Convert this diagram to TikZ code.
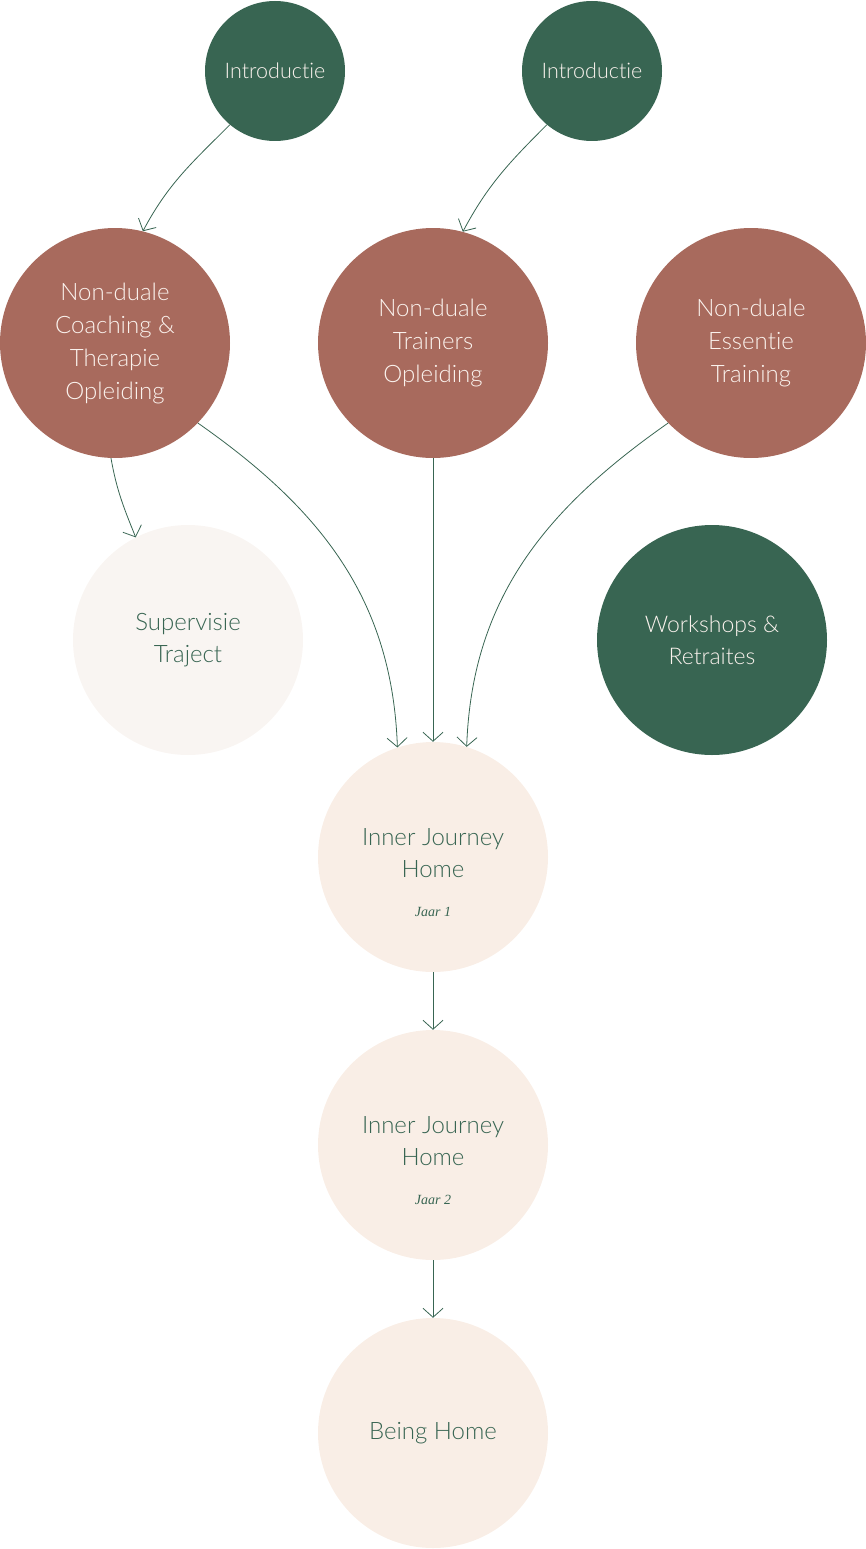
\documentclass[tikz,border=0pt]{standalone}
\usepackage{fontspec}
\setmainfont{Lato}[UprightFont=* Light, Ligatures={NoCommon,NoContextual}]
\newfontfamily\jaarfont{Liberation Serif}
\usepackage{tikz}
\usetikzlibrary{positioning,arrows.meta}

\definecolor{pinegreen}{HTML}{386552}
\definecolor{claybrown}{HTML}{A86A5D}
\definecolor{creamfill}{HTML}{F9EEE6}
\definecolor{mistfill}{HTML}{F9F5F2}
\definecolor{paletext}{HTML}{FBF3EE}

\tikzset{
  smallball/.style={circle, fill=pinegreen, minimum size=140pt, inner sep=0pt, text=paletext, font=\fontsize{21.5}{30}\selectfont, align=center},
  clayball/.style={circle, fill=claybrown, minimum size=230pt, inner sep=0pt, text=paletext, font=\fontsize{24}{33}\selectfont, align=center},
  pineball/.style={circle, fill=pinegreen, minimum size=230pt, inner sep=0pt, text=paletext, font=\fontsize{23}{32}\selectfont, align=center},
  creamball/.style={circle, fill=creamfill, minimum size=230pt, inner sep=0pt, text=pinegreen, font=\fontsize{24}{32}\selectfont, align=center},
  link/.style={draw=pinegreen, line width=0.8pt, -{Straight Barb[length=9pt,width=20pt,line width=0.8pt]}}
}
\newcommand{\jaar}[1]{{\jaarfont\itshape\fontsize{14}{16}\selectfont #1}}

\begin{document}
\begin{tikzpicture}[x=1pt,y=1pt]
\useasboundingbox (0,0) rectangle (866,-1549);

\node[smallball] (intro1) at (275,-71) {Introduc\kern0pt tie};
\node[smallball] (intro2) at (592,-71) {Introduc\kern0pt tie};
\node[clayball] (coach) at (115,-343) {Non-duale\\Coaching \&\\Therapie\\Opleiding};
\node[clayball] (trainers) at (433,-343) {Non-duale\\Trainers\\Opleiding};
\node[clayball] (essentie) at (751,-343) {Non-duale\\Essen\kern0pt tie\\Training};
\node[creamball, fill=mistfill] (supervisie) at (188,-640) {Supervisie\\Traject};
\node[pineball] (workshops) at (712,-640) {Workshops \&\\Retraites};
\node[creamball] (jaar1) at (433,-857) {{}\\[16pt]Inner Journey\\Home\\[7pt]\jaar{Jaar 1}};
\node[creamball] (jaar2) at (433,-1145) {{}\\[16pt]Inner Journey\\Home\\[7pt]\jaar{Jaar 2}};
\node[creamball] (being) at (433,-1433) {Being Home};

% connectors
\draw[link] (intro1.-130) to[out=-135,in=62] (coach.76);
\draw[link] (intro2.-130) to[out=-135,in=62] (trainers.75);
\draw[link] (coach.-92) to[out=-80,in=112] (supervisie.117);
\draw[link] (coach.-44) to[out=-35,in=92] (jaar1.108);
\draw[link] (trainers.south) -- (jaar1.north);
\draw[link] (essentie.-136) to[out=-145,in=88] (jaar1.73);
\draw[link] (jaar1.south) -- (jaar2.north);
\draw[link] (jaar2.south) -- (being.north);
\end{tikzpicture}
\end{document}
